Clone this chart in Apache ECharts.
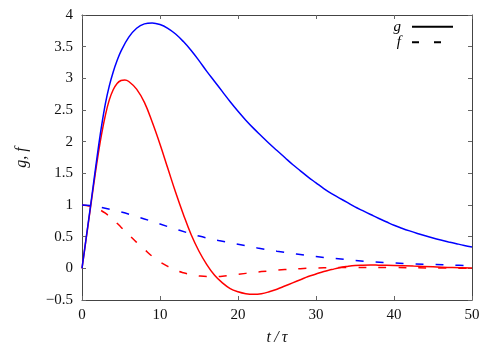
<!DOCTYPE html>
<html>
<head>
<meta charset="utf-8">
<script src="https://cdn.jsdelivr.net/npm/echarts@6/dist/echarts.min.js"></script>
<style>html,body{margin:0;padding:0;background:#fff}#c{width:500px;height:350px}</style>
</head>
<body>
<div id="c"></div>
<script>
// blue solid g
const tBlueG = [0,0.5,1,1.5,2,2.5,3,3.5,4,4.5,5,6,7,8,9,10,11,12,13,14,15,16,17,18,19,20,21,22,23,24,25,26,27,28,29,30,31,32,33,34,35,36,37,38,39,40,41,42,43,44,45,46,47,48,49,50];
const vBlueG = [0,0.45,0.9,1.36,1.82,2.24,2.6,2.88,3.1,3.28,3.43,3.65,3.79,3.86,3.875,3.85,3.79,3.70,3.58,3.44,3.28,3.11,2.95,2.79,2.63,2.48,2.34,2.21,2.09,1.97,1.86,1.75,1.64,1.54,1.44,1.35,1.26,1.18,1.11,1.04,0.97,0.91,0.85,0.79,0.735,0.68,0.634,0.591,0.551,0.514,0.479,0.447,0.417,0.389,0.362,0.338];
// red solid g
const tRedG = [0,0.5,1,1.5,2,2.5,3,3.5,4,4.5,5,5.5,6,7,8,9,10,11,12,13,14,15,16,17,18,19,20,21,22,23,24,25,26,27,28,29,30,31,32,33,34,35,36,37,38,40,42.5,45,47.5,50];
const vRedG = [0,0.44,0.88,1.32,1.74,2.11,2.42,2.66,2.82,2.92,2.965,2.975,2.95,2.83,2.62,2.31,1.96,1.58,1.20,0.85,0.53,0.27,0.06,-0.11,-0.23,-0.32,-0.37,-0.40,-0.41,-0.40,-0.37,-0.33,-0.28,-0.23,-0.18,-0.13,-0.09,-0.05,-0.02,0.01,0.03,0.045,0.05,0.052,0.05,0.045,0.035,0.025,0.012,0.005];
// blue dashed f
const tBlueF = [0,1.25,2.5,5,7.5,10,12.5,15,17.5,20,22.5,25,27.5,30,32.5,35,37.5,40,42.5,45,47.5,50];
const vBlueF = [1.0,0.99,0.96,0.89,0.80,0.70,0.60,0.51,0.44,0.38,0.32,0.27,0.225,0.185,0.155,0.125,0.10,0.085,0.07,0.06,0.05,0.04];
// red dashed f
const tRedF = [0,1,2,3,4,5,6,7,8,9,10,11,12,13,14,15,16,17,18,19,20,22,24,26,28,30,32,35,40,45,50];
const vRedF = [1.0,0.98,0.94,0.87,0.77,0.65,0.53,0.41,0.30,0.19,0.10,0.03,-0.03,-0.07,-0.10,-0.12,-0.13,-0.13,-0.125,-0.11,-0.095,-0.065,-0.04,-0.02,-0.005,0.005,0.012,0.015,0.012,0.006,0.0];

const xTicks = [0,10,20,30,40,50];
const yTicks = [-0.5,0,0.5,1,1.5,2,2.5,3,3.5,4];
const legendNames = ['g','f'];

const pair = (t, v) => t.map((x, i) => [x, v[i]]);
const FONT = 'Liberation Serif';
const frame = {show:true, onZero:false, lineStyle:{color:'#444', width:1}};
const tick = {show:true, inside:true, length:4, lineStyle:{color:'#666', width:1}};
const curve = {type:'line', symbol:'none', smooth:0.4, silent:true};

const chart = echarts.init(document.getElementById('c'), null, {renderer:'canvas'});
chart.setOption({
  animation:false,
  grid:{left:82, right:28, top:15, bottom:50, outerBoundsMode:'none', containLabel:false},
  legend:{
    data:legendNames, orient:'vertical', right:46, top:18.9, padding:0, align:'right',
    itemWidth:41, itemHeight:10, itemGap:0, selectedMode:false,
    itemStyle:{color:'rgba(0,0,0,0)', borderColor:'rgba(0,0,0,0)', borderWidth:0},
    textStyle:{fontFamily:FONT, fontStyle:'italic', fontSize:15, lineHeight:15.6, color:'#000', padding:[0,6,0,0]}
  },
  xAxis:[
    {type:'value', min:xTicks[0], max:xTicks[xTicks.length-1], interval:10, position:'bottom',
     axisLine:frame, axisTick:tick, splitLine:{show:false},
     axisLabel:{margin:8, fontFamily:FONT, fontSize:15, color:'#111'},
     name:'t\u2009/\u2009τ', nameLocation:'middle', nameGap:30,
     nameTextStyle:{fontFamily:FONT, fontStyle:'italic', fontSize:16, color:'#111'}},
    {type:'value', min:0, max:50, interval:10, position:'top',
     axisLine:frame, axisTick:tick, splitLine:{show:false}, axisLabel:{show:false}}
  ],
  yAxis:[
    {type:'value', min:yTicks[0], max:yTicks[yTicks.length-1], interval:0.5, position:'left',
     axisLine:frame, axisTick:tick, splitLine:{show:false},
     axisLabel:{margin:9, fontFamily:FONT, fontSize:15, color:'#111',
       formatter:v => String(v).replace('-', '\u2212')},
     name:'g, f', nameLocation:'middle', nameGap:52,
     nameTextStyle:{fontFamily:FONT, fontStyle:'italic', fontSize:16, color:'#111'}},
    {type:'value', min:-0.5, max:4, interval:0.5, position:'right',
     axisLine:frame, axisTick:tick, splitLine:{show:false}, axisLabel:{show:false}}
  ],
  series:[
    {name:'g', type:'line', data:[], symbol:'none', color:'#000',
     lineStyle:{color:'#000', width:1.5, type:'solid'}},
    {name:'f', type:'line', data:[], symbol:'none', color:'#000',
     lineStyle:{color:'#000', width:1.5, type:[7,15]}},
    Object.assign({data:pair(tRedF, vRedF), lineStyle:{color:'#ff0000', width:1.5, type:[8,12]}}, curve),
    Object.assign({data:pair(tRedG, vRedG), lineStyle:{color:'#ff0000', width:1.5}}, curve),
    Object.assign({data:pair(tBlueF, vBlueF), lineStyle:{color:'#0000ff', width:1.5, type:[8,12]}}, curve),
    Object.assign({data:pair(tBlueG, vBlueG), lineStyle:{color:'#0000ff', width:1.5}}, curve)
  ]
});
</script>
</body>
</html>
